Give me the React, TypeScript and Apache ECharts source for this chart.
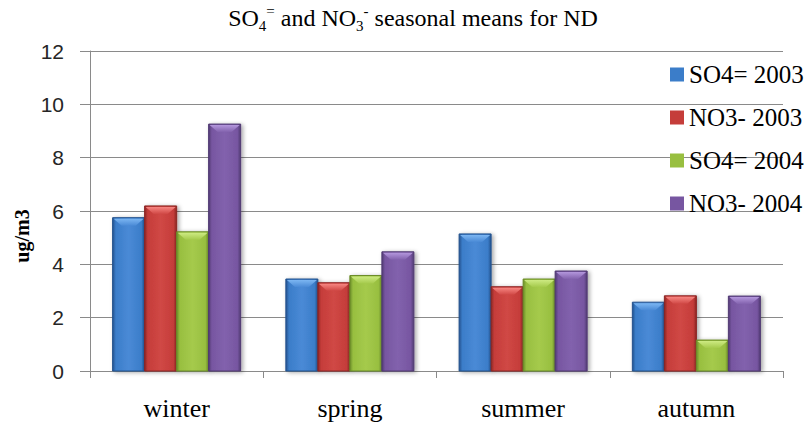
import React, { useEffect, useRef } from "react";
import * as echarts from "echarts";

const categories = ["winter", "spring", "summer", "autumn"];
const seriesNames = ["SO4= 2003", "NO3- 2003", "SO4= 2004", "NO3- 2004"];
const so4_2003 = [5.75, 3.45, 5.14, 2.58];
const no3_2003 = [6.19, 3.31, 3.16, 2.82];
const so4_2004 = [5.22, 3.58, 3.45, 1.16];
const no3_2004 = [9.26, 4.47, 3.75, 2.81];
const seriesValues = [so4_2003, no3_2003, so4_2004, no3_2004];
const yTicks = { min: 0, max: 12, interval: 2 };

const PALETTE = [
  { main: "#3b7dc9", mid: "#4a8ad6", dark: "#23528e", light: "#7cb6f2" },
  { main: "#c53d3a", mid: "#d04845", dark: "#8c2624", light: "#f78682" },
  { main: "#98bf40", mid: "#a5ca4c", dark: "#6b8c28", light: "#cdea82" },
  { main: "#7756a1", mid: "#8262ad", dark: "#513a73", light: "#b396dc" },
];

const SERIF = "Liberation Serif";
const SANS = "Liberation Sans";
const GROUP_FRACTION = 0.739;

function renderItem(params: any, api: any) {
  const i = api.value(0);
  const v = api.value(1);
  const top = api.coord([i, v]);
  const base = api.coord([i, 0]);
  const band = api.size([1, 0])[0];
  const groupW = band * GROUP_FRACTION;
  const w = groupW / 4;
  const x = top[0] - groupW / 2 + params.seriesIndex * w;
  const yT = top[1];
  const h = base[1] - yT;
  const pal = PALETTE[params.seriesIndex];
  const b = Math.min(8, h / 2);
  return {
    type: "group",
    children: [
      {
        type: "rect",
        shape: { x: x, y: yT, width: w, height: h },
        style: {
          fill: new echarts.graphic.LinearGradient(0, 0, 1, 0, [
            { offset: 0, color: pal.dark },
            { offset: 0.1, color: pal.main },
            { offset: 0.5, color: pal.mid },
            { offset: 0.9, color: pal.main },
            { offset: 1, color: pal.dark },
          ]),
          stroke: pal.dark,
          lineWidth: 1,
          shadowBlur: 4,
          shadowColor: "rgba(0,0,0,0.35)",
          shadowOffsetX: 2,
          shadowOffsetY: 1,
        },
      },
      {
        type: "polygon",
        shape: {
          points: [
            [x + 1, yT + 1],
            [x + w - 1, yT + 1],
            [x + w - 1 - b, yT + b],
            [x + 1 + b, yT + b],
          ],
        },
        style: {
          fill: new echarts.graphic.LinearGradient(0, 0, 0, 1, [
            { offset: 0, color: pal.light },
            { offset: 1, color: pal.mid },
          ]),
        },
      },
    ],
  };
}

export default function App() {
  const ref = useRef<HTMLDivElement>(null);
  useEffect(() => {
    if (!ref.current) return;
    const chart = echarts.init(ref.current, null, { renderer: "svg" });
    chart.setOption({
      animation: false,
      backgroundColor: "#ffffff",
      textStyle: { fontFamily: SERIF },
      title: {
        text: "{b|SO}{sub|4}{sup|=}{b| and NO}{sub|3}{sup|-}{b| seasonal means for ND}",
        left: 413,
        top: 3,
        padding: 0,
        textAlign: "center",
        textStyle: {
          fontFamily: SERIF,
          fontWeight: "normal",
          rich: {
            b: { fontFamily: SERIF, fontSize: 24, color: "#000", lineHeight: 30 },
            sub: { fontFamily: SERIF, fontSize: 15, color: "#000", lineHeight: 18, verticalAlign: "bottom" },
            sup: { fontFamily: SERIF, fontSize: 15, color: "#000", lineHeight: 24, verticalAlign: "top" },
          },
        },
      },
      legend: {
        orient: "vertical",
        left: 665,
        top: 57,
        itemWidth: 14,
        itemHeight: 14,
        itemGap: 18,
        icon: "rect",
        data: seriesNames,
        textStyle: { fontFamily: SERIF, fontSize: 25, color: "#000", lineHeight: 25 },
      },
      grid: { left: 90, right: 28, top: 51, bottom: 53 },
      xAxis: {
        type: "category",
        data: categories,
        boundaryGap: true,
        axisLine: { show: true, lineStyle: { color: "#8a8a8a", width: 1 } },
        axisTick: { show: true, length: 7, interval: 0, alignWithLabel: false, lineStyle: { color: "#8a8a8a" } },
        axisLabel: { interval: 0, margin: 24, fontFamily: SERIF, fontSize: 26, color: "#000" },
        splitLine: { show: false },
      },
      yAxis: {
        type: "value",
        min: yTicks.min,
        max: yTicks.max,
        interval: yTicks.interval,
        axisLine: { show: true, lineStyle: { color: "#8a8a8a", width: 1 } },
        axisTick: { show: true, length: 10, inside: false, lineStyle: { color: "#8a8a8a" } },
        axisLabel: { margin: 26, fontFamily: SANS, fontSize: 21, color: "#262626" },
        splitLine: { show: true, lineStyle: { color: "#8a8a8a", width: 1 } },
      },
      graphic: [
        {
          type: "text",
          x: 22,
          y: 236,
          rotation: Math.PI / 2,
          style: {
            text: "ug/m3",
            fontFamily: SERIF,
            fontWeight: "bold",
            fontSize: 20,
            fill: "#000",
            align: "center",
            verticalAlign: "middle",
          },
        },
      ],
      series: seriesNames.map((name, si) => ({
        name,
        type: "custom",
        renderItem,
        itemStyle: { color: PALETTE[si].main },
        encode: { x: 0, y: 1 },
        data: seriesValues[si].map((v, i) => [i, v]),
      })),
    });
    return () => chart.dispose();
  }, []);
  return (
    <div
      ref={ref}
      style={{ position: "fixed", left: 0, top: 0, width: 811, height: 424 }}
    />
  );
}
